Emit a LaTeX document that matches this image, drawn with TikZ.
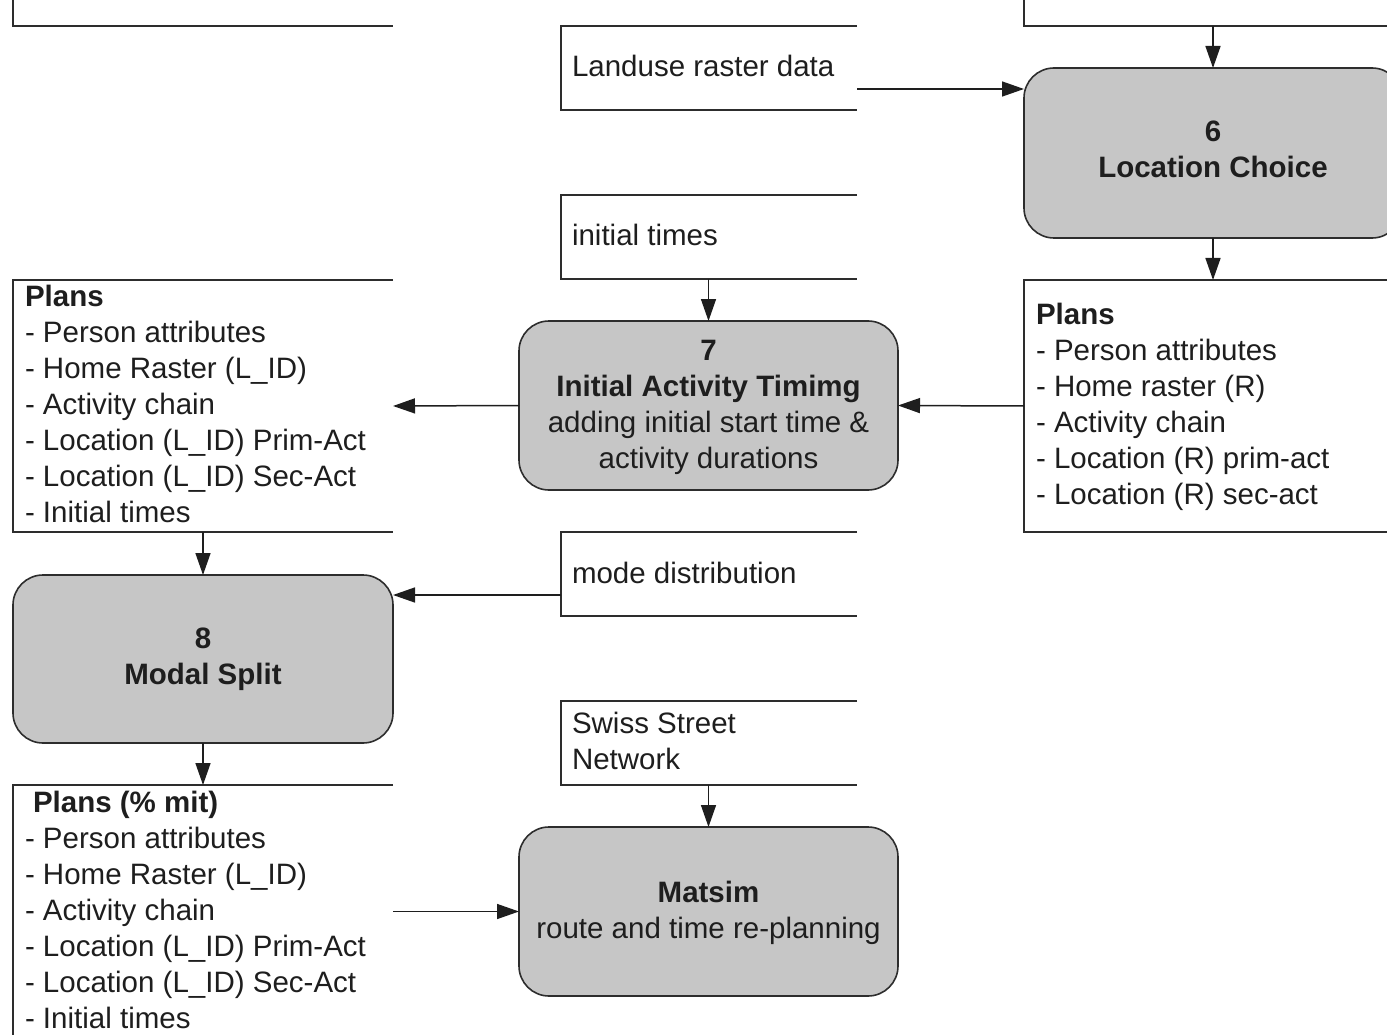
\documentclass[tikz,border=0pt]{standalone}
\usepackage{fontspec}
\setmainfont{Liberation Sans}
\usetikzlibrary{arrows.meta,calc}

\definecolor{procfill}{RGB}{198,198,198}
\definecolor{edgecol}{RGB}{45,45,45}
\definecolor{inkcol}{RGB}{30,30,30}

\tikzset{
  store/.style={inner sep=0pt, outer sep=0pt, anchor=north west},
  storeline/.style={draw=edgecol, line width=1.8pt},
  proc/.style={draw=edgecol, fill=procfill, line width=1.6pt, rounded corners=30pt,
               inner sep=0pt, outer sep=0pt},
  txt/.style={inner sep=0pt, outer sep=0pt, font=\fontsize{29.5}{36}\selectfont, text=inkcol},
  % multi-line texts are placed by the baseline of their last line
  blk/.style={txt, align=left, anchor=base west},
  ctr/.style={txt, align=center, anchor=base},
  conn/.style={draw=inkcol, line width=1.5pt, -{Triangle[length=22pt,width=15pt]}},
}

% data store: open on its right side
\newcommand\openstore[1]{%
  \draw[storeline] (#1.north east) -- (#1.north west) -- (#1.south west) -- (#1.south east);}

\begin{document}
\begin{tikzpicture}[x=1pt,y=-1pt]
\useasboundingbox (0,0) rectangle (1387,1035);
\clip (0,0) rectangle (1387,1035);

% ---- data stores
\node[store, minimum width=380pt, minimum height=86pt]  (tl)     at (13,-60)   {};
\node[store, minimum width=400pt, minimum height=86pt]  (tr)     at (1024,-60) {};
\node[store, minimum width=296pt, minimum height=84pt]  (land)   at (561,26)   {};
\node[store, minimum width=296pt, minimum height=84pt]  (init)   at (561,195)  {};
\node[store, minimum width=380pt, minimum height=252pt] (lplans) at (13,280)   {};
\node[store, minimum width=400pt, minimum height=252pt] (rplans) at (1024,280) {};
\node[store, minimum width=296pt, minimum height=84pt]  (mode)   at (561,532)  {};
\node[store, minimum width=296pt, minimum height=84pt]  (swiss)  at (561,701)  {};
\node[store, minimum width=380pt, minimum height=300pt] (bplans) at (13,785)   {};
\foreach \s in {tl,tr,land,init,lplans,rplans,mode,swiss,bplans} {\openstore{\s}}

% ---- processes
\node[proc, minimum width=378pt, minimum height=170pt] (p6) at (1213,153)   {};
\node[proc, minimum width=379pt, minimum height=169pt] (p7) at (708.5,405.5) {};
\node[proc, minimum width=380pt, minimum height=168pt] (p8) at (203,659)    {};
\node[proc, minimum width=379pt, minimum height=169pt] (p9) at (708.5,911.5) {};

% ---- texts of the data stores
\node[blk] (landT)  at (572,77)  {Landuse raster data};
\node[blk] (initT)  at (572,246) {initial times};
\node[blk] (modeT)  at (572,583) {mode distribution};
\node[blk] (swissT) at (572,769) {Swiss Street\\Network};
\node[blk] (lplansT) at (25,522) {\textbf{Plans}\\- Person attributes\\- Home Raster (L\_ID)\\
  - Activity chain\\- Location (L\_ID) Prim-Act\\- Location (L\_ID) Sec-Act\\- Initial times};
\node[blk] (rplansT) at (1036,504) {\textbf{Plans}\\- Person attributes\\- Home raster (R)\\
  - Activity chain\\- Location (R) prim-act\\- Location (R) sec-act};
\node[blk] (bplansT) at (25,1028) {\hspace*{8pt}\textbf{Plans (\% mit)}\\- Person attributes\\
  - Home Raster (L\_ID)\\- Activity chain\\- Location (L\_ID) Prim-Act\\
  - Location (L\_ID) Sec-Act\\- Initial times};

% ---- texts of the processes
\node[ctr] (p6T) at (1213,178)  {\textbf{6}\\\textbf{Location Choice}};
\node[ctr] (p7T) at (708.5,468) {\textbf{7}\\\textbf{Initial Activity Timimg}\\
  adding initial start time \&\\activity durations};
\node[ctr] (p8T) at (203,684)   {\textbf{8}\\\textbf{Modal Split}};
\node[ctr] (p9T) at (708.5,938) {\textbf{Matsim}\\route and time re-planning};

% ---- connectors
\coordinate (landOut) at ($(land.south east)!.25!(land.north east)$);
\coordinate (modeOut) at ($(mode.south west)!.25!(mode.north west)$);
\draw[conn] (landOut) -- (landOut -| p6.west);
\draw[conn] (p6.north |- tr.south) -- (p6.north);
\draw[conn] (p6.south) -- (p6.south |- rplans.north);
\draw[conn] (rplans.west) -- (p7.east);
\draw[conn] (p7.north |- init.south) -- (p7.north);
\draw[conn] (p7.west) -- (lplans.east);
\draw[conn] (lplans.south) -- (p8.north);
\draw[conn] (modeOut) -- (modeOut -| p8.east);
\draw[conn] (p8.south) -- (p8.south |- bplans.north);
\draw[conn] (p9.west -| bplans.east) -- (p9.west);
\draw[conn] (p9.north |- swiss.south) -- (p9.north);
\end{tikzpicture}
\end{document}
